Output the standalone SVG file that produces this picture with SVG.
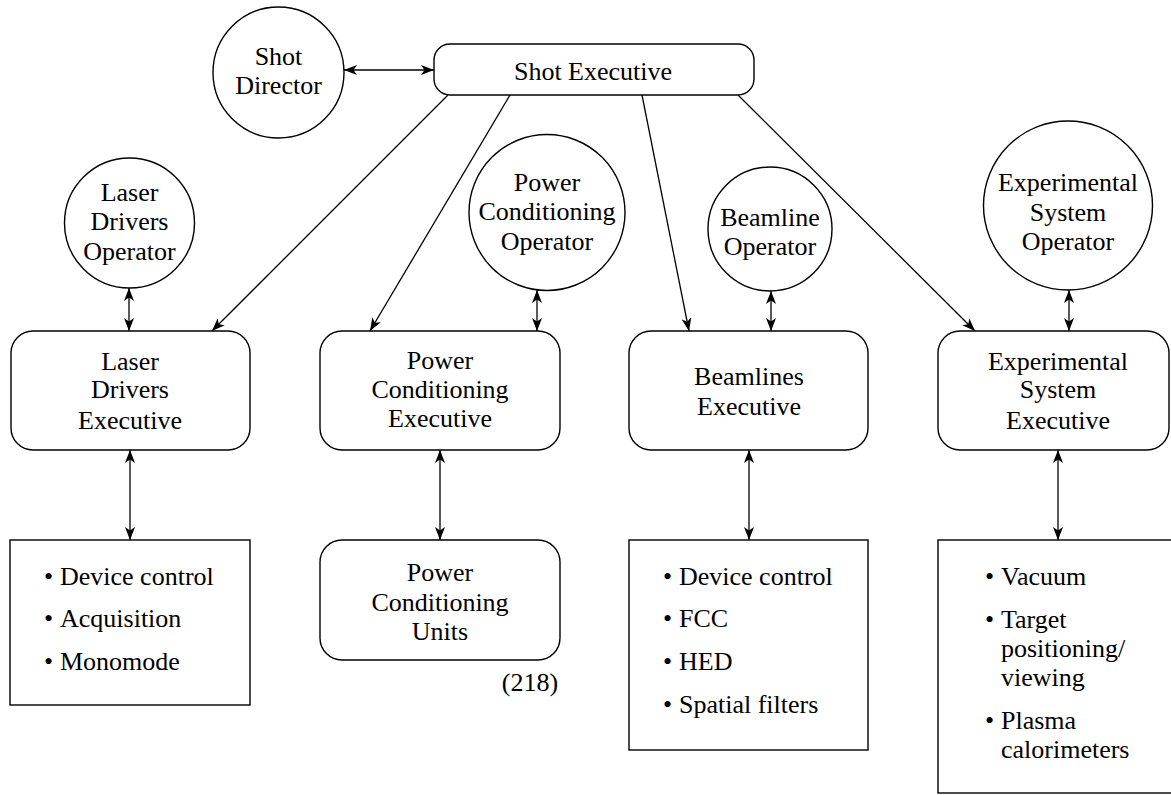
<svg xmlns="http://www.w3.org/2000/svg" width="1171" height="795" viewBox="0 0 1171 795">
<defs>
<marker id="ah" viewBox="0 0 13 10" markerWidth="13" markerHeight="10" refX="13" refY="5" orient="auto-start-reverse" markerUnits="userSpaceOnUse">
<path d="M0,0 L13,5 L0,10 L3.5,5 z" fill="#000"/>
</marker>
</defs>
<style>
.n{fill:#fff;stroke:#000;stroke-width:1.4}
.t{font-family:"Liberation Serif",Tinos,"Times New Roman",Times,"Nimbus Roman","Nimbus Roman No9 L","DejaVu Serif","Noto Serif",FreeSerif,serif;font-size:26px;fill:#000;text-anchor:middle}
.l{font-family:"Liberation Serif",Tinos,"Times New Roman",Times,"Nimbus Roman","Nimbus Roman No9 L","DejaVu Serif","Noto Serif",FreeSerif,serif;font-size:26px;fill:#000}
.c{fill:none;stroke:#000;stroke-width:1.3}
.s{marker-end:url(#ah)}
.d{marker-start:url(#ah);marker-end:url(#ah)}
</style>
<rect width="1171" height="795" fill="#fff"/>
<g id="connectors">
<line class="c d" x1="344" y1="70" x2="434" y2="70"/>
<line class="c s" x1="448" y1="95" x2="212" y2="331"/>
<line class="c s" x1="510" y1="95" x2="370" y2="331"/>
<line class="c s" x1="642" y1="95" x2="689" y2="331"/>
<line class="c s" x1="738" y1="95" x2="975" y2="331"/>
<line class="c d" x1="129" y1="288" x2="129" y2="331"/>
<line class="c d" x1="537" y1="290" x2="537" y2="331"/>
<line class="c d" x1="771" y1="291" x2="771" y2="331"/>
<line class="c d" x1="1069" y1="290" x2="1069" y2="331"/>
<line class="c d" x1="130" y1="450" x2="130" y2="540"/>
<line class="c d" x1="440" y1="450" x2="440" y2="540"/>
<line class="c d" x1="749" y1="450" x2="749" y2="540"/>
<line class="c d" x1="1058" y1="450" x2="1058" y2="540"/>
</g>
<g id="shot-director">
<circle class="n" cx="278.5" cy="72.5" r="65.5"/>
<text class="t" x="278.5" y="65">Shot</text>
<text class="t" x="278.5" y="94">Director</text>
</g>
<g id="shot-executive">
<rect class="n" x="434" y="44" width="320" height="51" rx="16"/>
<text class="t" x="593" y="80">Shot Executive</text>
</g>
<g id="laser-drivers-operator">
<circle class="n" cx="129.5" cy="223" r="65"/>
<text class="t" x="129.5" y="201">Laser</text>
<text class="t" x="129.5" y="230">Drivers</text>
<text class="t" x="129.5" y="260">Operator</text>
</g>
<g id="power-conditioning-operator">
<circle class="n" cx="547" cy="212.5" r="78"/>
<text class="t" x="547" y="191">Power</text>
<text class="t" x="547" y="220">Conditioning</text>
<text class="t" x="547" y="250">Operator</text>
</g>
<g id="beamline-operator">
<circle class="n" cx="770" cy="229" r="62"/>
<text class="t" x="770" y="226">Beamline</text>
<text class="t" x="770" y="255">Operator</text>
</g>
<g id="experimental-system-operator">
<circle class="n" cx="1068" cy="205.5" r="84.5"/>
<text class="t" x="1068" y="191">Experimental</text>
<text class="t" x="1068" y="221">System</text>
<text class="t" x="1068" y="250">Operator</text>
</g>
<g id="laser-drivers-executive">
<rect class="n" x="11" y="331" width="239" height="119" rx="22"/>
<text class="t" x="130" y="370">Laser</text>
<text class="t" x="130" y="398">Drivers</text>
<text class="t" x="130" y="429">Executive</text>
</g>
<g id="power-conditioning-executive">
<rect class="n" x="320" y="331" width="240" height="119" rx="22"/>
<text class="t" x="440" y="369">Power</text>
<text class="t" x="440" y="398">Conditioning</text>
<text class="t" x="440" y="427">Executive</text>
</g>
<g id="beamlines-executive">
<rect class="n" x="629" y="331" width="239" height="119" rx="22"/>
<text class="t" x="749" y="385">Beamlines</text>
<text class="t" x="749" y="415">Executive</text>
</g>
<g id="experimental-system-executive">
<rect class="n" x="938" y="331" width="231" height="119" rx="22"/>
<text class="t" x="1058" y="370">Experimental</text>
<text class="t" x="1058" y="398">System</text>
<text class="t" x="1058" y="429">Executive</text>
</g>
<g id="laser-drivers-functions">
<rect class="n" x="10" y="540" width="240" height="165"/>
<text class="l" x="44" y="585">•</text><text class="l" x="60" y="585">Device control</text>
<text class="l" x="44" y="627">•</text><text class="l" x="60" y="627">Acquisition</text>
<text class="l" x="44" y="670">•</text><text class="l" x="60" y="670">Monomode</text>
</g>
<g id="power-conditioning-units">
<rect class="n" x="320" y="540" width="240" height="120" rx="22"/>
<text class="t" x="440" y="581">Power</text>
<text class="t" x="440" y="611">Conditioning</text>
<text class="t" x="440" y="640">Units</text>
<text class="t" x="530" y="691">(218)</text>
</g>
<g id="beamlines-functions">
<rect class="n" x="629" y="540" width="239" height="210"/>
<text class="l" x="663" y="585">•</text><text class="l" x="679" y="585">Device control</text>
<text class="l" x="663" y="627">•</text><text class="l" x="679" y="627">FCC</text>
<text class="l" x="663" y="670">•</text><text class="l" x="679" y="670">HED</text>
<text class="l" x="663" y="713">•</text><text class="l" x="679" y="713">Spatial filters</text>
</g>
<g id="experimental-system-functions">
<rect class="n" x="938" y="540" width="245" height="253"/>
<text class="l" x="985" y="585">•</text><text class="l" x="1001" y="585">Vacuum</text>
<text class="l" x="985" y="628">•</text><text class="l" x="1001" y="628">Target</text>
<text class="l" x="1001" y="657">positioning/</text>
<text class="l" x="1001" y="686">viewing</text>
<text class="l" x="985" y="729">•</text><text class="l" x="1001" y="729">Plasma</text>
<text class="l" x="1001" y="758">calorimeters</text>
</g>
</svg>
